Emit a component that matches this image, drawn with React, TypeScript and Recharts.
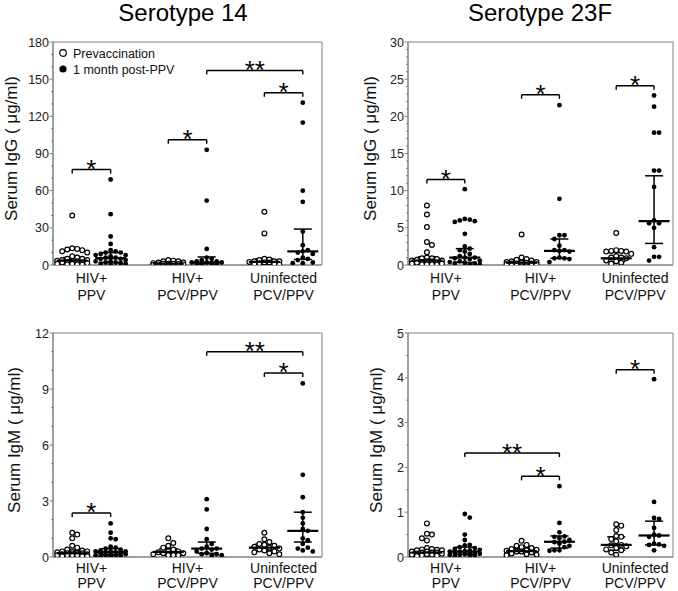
import React from 'react';
import { ScatterChart, Scatter, XAxis, YAxis, ErrorBar, ReferenceLine, ReferenceArea } from 'recharts';

const FONT = '"Liberation Sans", Arial, Helvetica, sans-serif';
const FRAME = '#808080';

// ---------- categories ----------
const groupCenters = [1, 2, 3];
const groupLabels = [['HIV+', 'PPV'], ['HIV+', 'PCV/PPV'], ['Uninfected', 'PCV/PPV']];
const columnOffset = 0.2;
const X_DOMAIN: [number, number] = [0.6, 3.4];
const colX = groupCenters.flatMap((c) => [c - columnOffset, c + columnOffset]);

// ---------- Serotype 14, IgG ----------
const igg14Ticks = [0, 30, 60, 90, 120, 150, 180];
const igg14PrePPV = [40, 13, 12.5, 12, 11, 10, 13.5, 7, 6, 5, 5, 4, 4, 3.5, 3, 3, 2.5, 2, 2, 1.5, 1, 1, 0.5, 0.5, 0.3];
const igg14PostPPV = [69, 41, 23, 17, 12, 11, 10, 10, 9, 8, 8, 7, 6, 6, 5, 5, 4, 3, 3, 2, 2, 1.5, 1, 1, 0.5];
const igg14PrePCV = [4, 3.5, 3, 3, 2, 2, 1.5, 1, 1, 1, 0.8, 0.5, 0.5, 0.3, 0.3];
const igg14PostPCV = [93, 52, 13, 6, 5, 4, 3, 3, 2, 2, 2, 1.5, 1, 1, 0.5];
const igg14PreUninf = [43, 25.5, 5, 4.5, 4, 3, 3, 3, 2.5, 2, 2, 1.5, 1, 1, 0.5];
const igg14PostUninf = [131, 115, 60, 51, 27, 16, 12, 11, 10, 9, 6, 5, 4, 2, 1.5, 1.5];
const igg14Median = [3.5, 5.5, 1, 2, 2.5, 11];
const igg14Q1 = [1.2, 2, 0.5, 1, 1.2, 4.5];
const igg14Q3 = [6, 10, 2, 6.5, 5, 29];
const igg14Brackets = [
  { from: 0, to: 1, y: 77, label: '*' },
  { from: 2, to: 3, y: 101, label: '*' },
  { from: 3, to: 5, y: 157, label: '**' },
  { from: 4, to: 5, y: 139, label: '*' },
];

// ---------- Serotype 23F, IgG ----------
const igg23Ticks = [0, 5, 10, 15, 20, 25, 30];
const igg23PrePPV = [8, 6.8, 5.1, 3.1, 2.7, 1.7, 1.0, 0.9, 0.9, 0.8, 0.7, 0.6, 0.6, 0.5, 0.5, 0.4, 0.3, 0.3, 0.2, 0.2, 0.1, 0.1, 0.1, 0.05];
const igg23PostPPV = [10.2, 6.2, 6.1, 6.0, 5.9, 5.8, 4.2, 2.5, 2.2, 2.0, 1.8, 1.5, 1.2, 1.0, 1.0, 0.9, 0.8, 0.6, 0.5, 0.4, 0.3, 0.2, 0.2, 0.1, 0.1];
const igg23PrePCV = [4.1, 1.0, 0.8, 0.7, 0.6, 0.5, 0.4, 0.4, 0.3, 0.3, 0.2, 0.2, 0.2, 0.1, 0.1];
const igg23PostPCV = [21.5, 8.9, 4.0, 4.0, 3.5, 2.6, 2.0, 2.0, 1.9, 1.8, 1.0, 0.9, 0.9, 0.8, 0.4];
const igg23PreUninf = [4.3, 2.0, 1.9, 1.9, 1.8, 1.8, 1.5, 1.2, 1.0, 1.0, 0.9, 0.6, 0.5, 0.3, 0.2];
const igg23PostUninf = [22.8, 21.3, 17.8, 17.8, 12.7, 12.7, 10.5, 6.0, 5.6, 5.6, 5.0, 2.4, 1.1, 1.1, 0.6];
const igg23Median = [0.6, 1.0, 0.3, 1.9, 0.9, 5.9];
const igg23Q1 = [0.2, 0.35, 0.15, 0.9, 0.45, 2.9];
const igg23Q3 = [1.1, 2.2, 0.6, 3.5, 1.7, 12];
const igg23Brackets = [
  { from: 0, to: 1, y: 11.5, label: '*' },
  { from: 2, to: 3, y: 22.9, label: '*' },
  { from: 4, to: 5, y: 24.1, label: '*' },
];

// ---------- Serotype 14, IgM ----------
const igm14Ticks = [0, 3, 6, 9, 12];
const igm14PrePPV = [1.3, 1.2, 1.0, 0.6, 0.5, 0.4, 0.35, 0.3, 0.3, 0.3, 0.25, 0.2, 0.2, 0.2, 0.2, 0.15, 0.15, 0.1, 0.1, 0.1, 0.1, 0.05, 0.05, 0.05];
const igm14PostPPV = [1.8, 1.3, 1.0, 0.95, 0.55, 0.5, 0.45, 0.4, 0.35, 0.3, 0.3, 0.3, 0.25, 0.25, 0.2, 0.2, 0.15, 0.15, 0.1, 0.1, 0.1, 0.05, 0.05, 0.05];
const igm14PrePCV = [1.0, 0.75, 0.6, 0.5, 0.4, 0.3, 0.3, 0.25, 0.2, 0.2, 0.15, 0.1, 0.1, 0.1];
const igm14PostPCV = [3.1, 2.55, 1.5, 0.95, 0.7, 0.55, 0.45, 0.45, 0.4, 0.3, 0.2, 0.15, 0.15, 0.1, 0.1];
const igm14PreUninf = [1.3, 0.95, 0.8, 0.7, 0.65, 0.6, 0.55, 0.5, 0.45, 0.4, 0.35, 0.3, 0.25, 0.2, 0.15];
const igm14PostUninf = [9.3, 4.4, 3.2, 2.4, 2.1, 1.8, 1.5, 1.4, 1.0, 0.9, 0.7, 0.5, 0.45, 0.35, 0.3];
const igm14Median = [0.2, 0.27, 0.27, 0.45, 0.5, 1.4];
const igm14Q1 = [0.1, 0.12, 0.15, 0.2, 0.35, 0.8];
const igm14Q3 = [0.35, 0.45, 0.45, 0.8, 0.7, 2.4];
const igm14Brackets = [
  { from: 0, to: 1, y: 2.36, label: '*' },
  { from: 3, to: 5, y: 11.0, label: '**' },
  { from: 4, to: 5, y: 9.86, label: '*' },
];

// ---------- Serotype 23F, IgM ----------
const igm23Ticks = [0, 1, 2, 3, 4, 5];
const igm23PrePPV = [0.75, 0.52, 0.5, 0.42, 0.37, 0.2, 0.18, 0.17, 0.16, 0.15, 0.15, 0.12, 0.12, 0.1, 0.1, 0.1, 0.08, 0.07, 0.06, 0.05, 0.05, 0.04, 0.03, 0.02];
const igm23PostPPV = [0.96, 0.88, 0.5, 0.38, 0.27, 0.26, 0.22, 0.2, 0.18, 0.16, 0.15, 0.13, 0.12, 0.12, 0.1, 0.09, 0.08, 0.07, 0.06, 0.05, 0.05, 0.04, 0.03, 0.02];
const igm23PrePCV = [0.36, 0.27, 0.25, 0.22, 0.2, 0.18, 0.16, 0.15, 0.14, 0.12, 0.12, 0.1, 0.08, 0.06, 0.05, 0.04];
const igm23PostPCV = [1.58, 0.76, 0.55, 0.46, 0.45, 0.42, 0.38, 0.34, 0.33, 0.3, 0.25, 0.22, 0.15, 0.15, 0.14];
const igm23PreUninf = [0.73, 0.7, 0.6, 0.47, 0.45, 0.4, 0.35, 0.27, 0.26, 0.24, 0.2, 0.17, 0.15, 0.1, 0.05];
const igm23PostUninf = [3.97, 1.23, 0.87, 0.85, 0.65, 0.5, 0.48, 0.45, 0.3, 0.28, 0.27, 0.25, 0.15];
const igm23Median = [0.1, 0.12, 0.13, 0.34, 0.27, 0.48];
const igm23Q1 = [0.05, 0.06, 0.08, 0.2, 0.15, 0.27];
const igm23Q3 = [0.17, 0.22, 0.2, 0.47, 0.45, 0.8];
const igm23Brackets = [
  { from: 4, to: 5, y: 4.18, label: '*' },
  { from: 1, to: 3, y: 2.32, label: '**' },
  { from: 2, to: 3, y: 1.8, label: '*' },
];

const legendItems = ['Prevaccination', '1 month post-PPV'];

// ---------- panel options ----------
type Bracket = { from: number; to: number; y: number; label: string };
type PanelCfg = {
  title?: string; titleX?: number; yLabel: string; left: number; top: number; width: number; height: number;
  yAxisWidth: number; marginRight: number; plotHeight: number; xAxisHeight: number; labelX: number;
  xLine1: number; xLine2: number;
  ticks: number[]; minorStep: number; columns: number[][]; median: number[]; q1: number[]; q3: number[];
  brackets: Bracket[]; legend?: boolean;
};

const panels: PanelCfg[] = [
  {
    title: 'Serotype 14', titleX: 183, yLabel: 'Serum IgG ( μg/ml)', left: 0, top: 0, width: 339, height: 305,
    yAxisWidth: 53, marginRight: 17, plotHeight: 223, xAxisHeight: 40, labelX: 17, xLine1: 18, xLine2: 35,
    ticks: igg14Ticks, minorStep: 10,
    columns: [igg14PrePPV, igg14PostPPV, igg14PrePCV, igg14PostPCV, igg14PreUninf, igg14PostUninf],
    median: igg14Median, q1: igg14Q1, q3: igg14Q3, brackets: igg14Brackets, legend: true,
  },
  {
    title: 'Serotype 23F', titleX: 200, yLabel: 'Serum IgG ( μg/ml)', left: 340, top: 0, width: 338, height: 305,
    yAxisWidth: 68, marginRight: 5, plotHeight: 223, xAxisHeight: 40, labelX: 36, xLine1: 18, xLine2: 35,
    ticks: igg23Ticks, minorStep: 1,
    columns: [igg23PrePPV, igg23PostPPV, igg23PrePCV, igg23PostPCV, igg23PreUninf, igg23PostUninf],
    median: igg23Median, q1: igg23Q1, q3: igg23Q3, brackets: igg23Brackets,
  },
  {
    yLabel: 'Serum IgM ( μg/ml)', left: 0, top: 291, width: 339, height: 300,
    yAxisWidth: 53, marginRight: 17, plotHeight: 224, xAxisHeight: 34, labelX: 20, xLine1: 15.5, xLine2: 31,
    ticks: igm14Ticks, minorStep: 1,
    columns: [igm14PrePPV, igm14PostPPV, igm14PrePCV, igm14PostPCV, igm14PreUninf, igm14PostUninf],
    median: igm14Median, q1: igm14Q1, q3: igm14Q3, brackets: igm14Brackets,
  },
  {
    yLabel: 'Serum IgM ( μg/ml)', left: 340, top: 291, width: 338, height: 300,
    yAxisWidth: 68, marginRight: 5, plotHeight: 224, xAxisHeight: 34, labelX: 42, xLine1: 15.5, xLine2: 31,
    ticks: igm23Ticks, minorStep: 0.5,
    columns: [igm23PrePPV, igm23PostPPV, igm23PrePCV, igm23PostPCV, igm23PreUninf, igm23PostUninf],
    median: igm23Median, q1: igm23Q1, q3: igm23Q3, brackets: igm23Brackets,
  },
];

// ---------- beeswarm layout (horizontal spread of tied values) ----------
const DOT_GAP = 5;
const SLOTS = [0, 1, -1, 2, -2, 3, -3];
function swarm(values: number[], x: number, yMax: number, plotH: number, pxPerX: number) {
  const placed: { px: number; py: number }[] = [];
  const sorted = [...values].sort((a, b) => b - a);
  return sorted.map((v) => {
    const py = (v / yMax) * plotH;
    let best = 0;
    let bestDist = -1;
    for (const s of SLOTS) {
      const px = s * DOT_GAP;
      let minD = Infinity;
      for (const p of placed) minD = Math.min(minD, Math.hypot(p.px - px, p.py - py));
      if (minD >= DOT_GAP) { best = px; bestDist = Infinity; break; }
      if (minD > bestDist + 0.6) { bestDist = minD; best = px; }
    }
    placed.push({ px: best, py });
    return { x: x + best / pxPerX, y: v };
  });
}

// ---------- shapes ----------
const OpenDot = (p: any) => <circle cx={p.cx} cy={p.cy} r={2.4} fill="#fff" stroke="#000" strokeWidth={1.2} />;
const FilledDot = (p: any) => <circle cx={p.cx} cy={p.cy} r={2.4} fill="#000" />;
const MedianLine = (p: any) => <line x1={p.cx - 15.5} x2={p.cx + 15.5} y1={p.cy} y2={p.cy} stroke="#000" strokeWidth={2.2} />;

const makeXTick = (l1: number, l2: number) => (props: any) => {
  const { x, y, payload } = props;
  const idx = groupCenters.indexOf(payload.value);
  const lines = groupLabels[idx] || [];
  return (
    <g>
      {lines.map((l, i) => (
        <text key={i} x={x} y={y + (i === 0 ? l1 : l2)} textAnchor="middle" fontSize={14} fill="#111" fontFamily={FONT}>{l}</text>
      ))}
    </g>
  );
};

const makeYTick = (majors: number[]) => (props: any) => {
  const { x, y, payload } = props;
  const ax = x + 6;
  const v = payload.value;
  const isMajor = majors.some((m) => Math.abs(m - v) < 1e-9);
  return (
    <g>
      <line x1={ax} x2={ax - (isMajor ? 3.5 : 2)} y1={y} y2={y} stroke={FRAME} strokeWidth={1} />
      {isMajor && (
        <text x={ax - 4} y={y} dy="0.36em" textAnchor="end" fontSize={12.5} fill="#222" fontFamily={FONT}>{v}</text>
      )}
    </g>
  );
};

const bracketLabel = (text: string) => (props: any) => {
  const vb = props.viewBox || {};
  const x0 = vb.x;
  const x1 = vb.x + vb.width;
  const y = vb.y;
  return (
    <g>
      <line x1={x0} x2={x0} y1={y} y2={y + 4} stroke="#000" strokeWidth={1.4} />
      <line x1={x1} x2={x1} y1={y} y2={y + 4} stroke="#000" strokeWidth={1.4} />
      <text x={(x0 + x1) / 2} y={y + 8.5} textAnchor="middle" fontSize={26} fill="#000" fontFamily={FONT}>{text}</text>
    </g>
  );
};

function Panel({ cfg }: { cfg: PanelCfg }) {
  const yMax = cfg.ticks[cfg.ticks.length - 1];
  const plotWidth = cfg.width - cfg.yAxisWidth - cfg.marginRight;
  const pxPerX = plotWidth / (X_DOMAIN[1] - X_DOMAIN[0]);
  const allTicks: number[] = [];
  const n = Math.round(yMax / cfg.minorStep);
  for (let k = 0; k <= n; k++) allTicks.push(Math.round(k * cfg.minorStep * 1000) / 1000);
  const series = cfg.columns.map((vals, i) => swarm(vals, colX[i], yMax, cfg.plotHeight, pxPerX));
  const stats = colX.map((x, i) => ({
    x,
    y: cfg.median[i],
    err: [cfg.median[i] - cfg.q1[i], cfg.q3[i] - cfg.median[i]],
  }));
  const plotTop = 42;
  const yLabelContent = () => {
    const cy = plotTop + cfg.plotHeight / 2 - 5;
    return (
      <text x={cfg.labelX} y={cy} transform={`rotate(-90 ${cfg.labelX} ${cy})`} textAnchor="middle" fontSize={17} fill="#111" fontFamily={FONT}>
        {cfg.yLabel}
      </text>
    );
  };
  return (
    <div style={{ position: 'absolute', left: cfg.left, top: cfg.top, width: cfg.width, height: cfg.height }}>
      <ScatterChart
        width={cfg.width}
        height={cfg.height}
        margin={{ top: plotTop, right: cfg.marginRight, bottom: 0, left: 0 }}
        style={{ fontFamily: FONT }}
      >
        <XAxis
          type="number" dataKey="x" domain={X_DOMAIN} ticks={groupCenters} interval={0}
          tickLine={false} tickSize={0} tickMargin={0} height={cfg.xAxisHeight}
          axisLine={{ stroke: FRAME }} tick={makeXTick(cfg.xLine1, cfg.xLine2)} allowDataOverflow
        />
        <YAxis
          type="number" dataKey="y" domain={[0, yMax]} ticks={allTicks} interval={0}
          width={cfg.yAxisWidth} tickLine={false} tickSize={4} tickMargin={2}
          axisLine={{ stroke: FRAME }} tick={makeYTick(cfg.ticks)} allowDataOverflow
          label={{ content: yLabelContent }}
        />
        <ReferenceArea x1={X_DOMAIN[0]} x2={X_DOMAIN[1]} y1={0} y2={yMax} fill="none" stroke={FRAME} strokeWidth={1} ifOverflow="visible" />
        {series.map((d, i) => (
          <Scatter key={i} data={d} shape={i % 2 === 0 ? OpenDot : FilledDot} isAnimationActive={false} />
        ))}
        <Scatter data={stats} shape={MedianLine} isAnimationActive={false}>
          <ErrorBar dataKey="err" width={9} stroke="#000" strokeWidth={1.5} direction="y" isAnimationActive={false} />
        </Scatter>
        {cfg.brackets.map((b, i) => (
          <ReferenceLine
            key={i}
            segment={[{ x: colX[b.from], y: b.y }, { x: colX[b.to], y: b.y }]}
            stroke="#000" strokeWidth={1.5} ifOverflow="visible"
            label={{ content: bracketLabel(b.label) }}
          />
        ))}
      </ScatterChart>
      {cfg.title && (
        <svg style={{ position: 'absolute', left: 0, top: 0, pointerEvents: 'none' }} width={cfg.width} height={30}>
          <text x={cfg.titleX} y={21} textAnchor="middle" fontSize={24} fill="#000" fontFamily={FONT}>{cfg.title}</text>
        </svg>
      )}
      {cfg.legend && (
        <svg style={{ position: 'absolute', left: 55, top: 44, pointerEvents: 'none' }} width={140} height={34}>
          <circle cx={8} cy={9} r={3.3} fill="#fff" stroke="#000" strokeWidth={1.2} />
          <text x={18} y={13.5} fontSize={12.5} fill="#111" fontFamily={FONT}>{legendItems[0]}</text>
          <circle cx={8} cy={25} r={3.6} fill="#000" />
          <text x={18} y={29.5} fontSize={12.5} fill="#111" fontFamily={FONT}>{legendItems[1]}</text>
        </svg>
      )}
    </div>
  );
}

export default function App() {
  return (
    <div style={{ position: 'relative', width: 678, height: 591, background: '#fff', overflow: 'hidden' }}>
      <style>{'body{margin:0;overflow:hidden;background:#fff}'}</style>
      {panels.map((p, i) => (
        <Panel key={i} cfg={p} />
      ))}
    </div>
  );
}
